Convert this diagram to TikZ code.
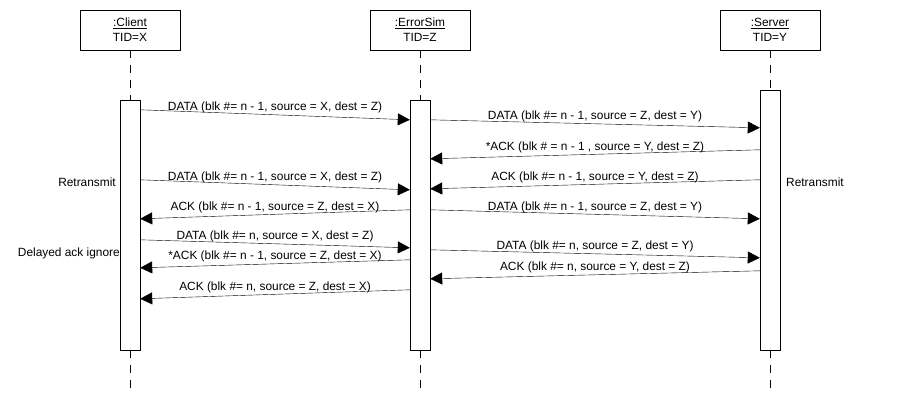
\documentclass[tikz,border=0pt]{standalone}
\usepackage{fontspec}
\setmainfont{Liberation Sans}
\usetikzlibrary{arrows.meta}
\begin{document}
\begin{tikzpicture}[x=1pt,y=-1pt,
  every node/.style={font=\fontsize{11.9}{14}\selectfont},
  hdr/.style={draw, fill=white, minimum width=100pt, minimum height=40pt, inner sep=0pt, align=center, font=\fontsize{11.9}{15}\selectfont},
  act/.style={draw, fill=white, minimum width=20pt, inner sep=0pt},
  life/.style={dash pattern=on 8pt off 7pt},
  msg/.style={-{Triangle[length=12pt,width=12pt]}},
  lbl/.style={inner sep=0pt, text height=8.5pt, text depth=2.5pt, yshift=7pt},
  note/.style={inner sep=0pt, text height=8.5pt, text depth=2.5pt}]
\useasboundingbox (0,0) rectangle (900,420);

% headers
\node[hdr] (client) at (130,30) {\underline{:Client}\\TID=X};
\node[hdr] (esim) at (420,30) {\underline{:ErrorSim}\\TID=Z};
\node[hdr] (server) at (770,30) {\underline{:Server}\\TID=Y};

% lifeline end points
\coordinate (endC) at (130,390);
\coordinate (endE) at (420,390);
\coordinate (endS) at (770,390);

% activation boxes
\node[act, minimum height=250pt] (actC) at (130,225) {};
\node[act, minimum height=250pt] (actE) at (420,225) {};
\node[act, minimum height=260pt] (actS) at (770,220) {};

% lifelines
\draw[life] (client.south) -- (actC.north);
\draw[life] (actC.south) -- (endC);
\draw[life] (esim.south) -- (actE.north);
\draw[life] (actE.south) -- (endE);
\draw[life] (server.south) -- (actS.north);
\draw[life] (actS.south) -- (endS);

% messages
\draw[msg] ([yshift=-10pt]actC.north east) -- ([yshift=-20pt]actE.north west)
  node[lbl, midway] {DATA (blk \#= n - 1, source = X, dest = Z)};
\draw[msg] ([yshift=-20pt]actE.north east) -- ([yshift=-38pt]actS.north west)
  node[lbl, midway] {DATA (blk \#= n - 1, source = Z, dest = Y)};
\draw[msg] ([yshift=-60pt]actS.north west) -- ([yshift=-59pt]actE.north east)
  node[lbl, midway] {*ACK (blk \# = n - 1 , source = Y, dest = Z)};
\draw[msg] ([yshift=-80pt]actC.north east) -- ([yshift=-90pt]actE.north west)
  node[lbl, midway] {DATA (blk \#= n - 1, source = X, dest = Z)};
\draw[msg] ([yshift=-90pt]actS.north west) -- ([yshift=-89pt]actE.north east)
  node[lbl, midway] {ACK (blk \#= n - 1, source = Y, dest = Z)};
\draw[msg] ([yshift=-110pt]actE.north west) -- ([yshift=-119pt]actC.north east)
  node[lbl, midway] {ACK (blk \#= n - 1, source = Z, dest = X)};
\draw[msg] ([yshift=-110pt]actE.north east) -- ([yshift=-129pt]actS.north west)
  node[lbl, midway] {DATA (blk \#= n - 1, source = Z, dest = Y)};
\draw[msg] ([yshift=-140pt]actC.north east) -- ([yshift=-148pt]actE.north west)
  node[lbl, midway] {DATA (blk \#= n, source = X, dest = Z)};
\draw[msg] ([yshift=-150pt]actE.north east) -- ([yshift=-168pt]actS.north west)
  node[lbl, midway] {DATA (blk \#= n, source = Z, dest = Y)};
\draw[msg] ([yshift=-160pt]actE.north west) -- ([yshift=-168pt]actC.north east)
  node[lbl, midway] {*ACK (blk \#= n - 1, source = Z, dest = X)};
\draw[msg] ([yshift=-181pt]actS.north west) -- ([yshift=-179pt]actE.north east)
  node[lbl, midway] {ACK (blk \#= n, source = Y, dest = Z)};
\draw[msg] ([yshift=-190pt]actE.north west) -- ([yshift=-199pt]actC.north east)
  node[lbl, midway] {ACK (blk \#= n, source = Z, dest = X)};

% side notes
\node[note, anchor=east] (rtC) at (116,183) {Retransmit};
\node[note, anchor=east] (dly) at (120,253) {Delayed ack ignore};
\node[note, anchor=west] (rtS) at (786,183) {Retransmit};
\end{tikzpicture}
\end{document}
